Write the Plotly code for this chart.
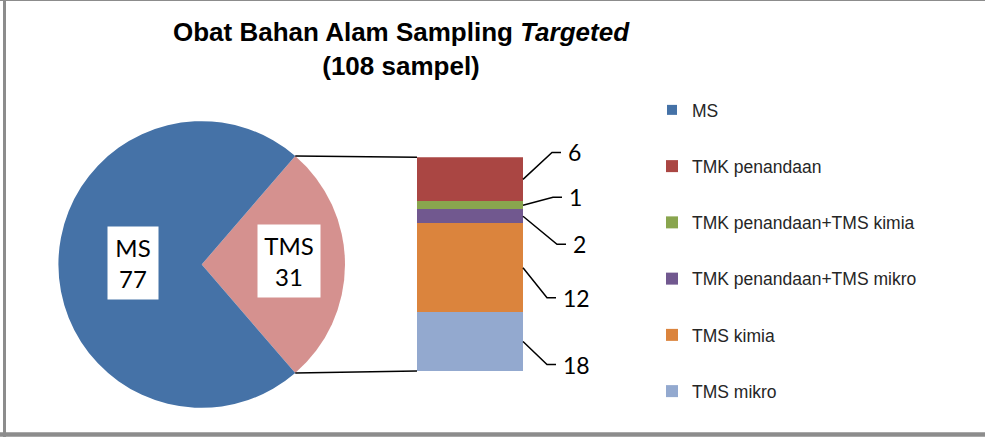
import math
import plotly.graph_objects as go

W, H = 985, 437

# main pie: MS (memenuhi syarat) vs TMS
pie_labels = ["TMS", "MS"]
pie_counts = [29, 77]                 # slice sizes as drawn in the picture
pie_text = ["TMS<br>31", "MS<br>77"]  # labels as printed on the chart

# TMS breakdown shown in the bar, top to bottom
sub_names = [
    "TMK penandaan",
    "TMK penandaan+TMS kimia",
    "TMK penandaan+TMS mikro",
    "TMS kimia",
    "TMS mikro",
]
sub_counts = [6, 1, 2, 12, 8]          # segment heights as drawn
sub_text = ["6", "1", "2", "12", "18"]  # data labels as printed

PIE_COLORS = {"MS": "#4572A7", "TMS": "#D5918F"}
SUB_COLORS = ["#AA4643", "#89A54E", "#71588F", "#DB843D", "#93A9CF"]

LABEL_FONT = "Lato, 'Open Sans', sans-serif"
TEXT_FONT = "'Liberation Sans', Arial, sans-serif"


def fx(px):
    return px / W


def fy(py):
    return 1 - py / H


# geometry (pixels)
pie_cx, pie_cy, pie_r = 201.7, 264.5, 143.3
bar_l, bar_r, bar_t, bar_b = 417, 523, 157.3, 371

tms_frac = pie_counts[0] / sum(pie_counts)
rotation = 90 - tms_frac * 180  # centre the TMS slice on 3 o'clock

fig = go.Figure()

fig.add_trace(go.Pie(
    labels=pie_labels,
    values=pie_counts,
    sort=False,
    direction="clockwise",
    rotation=rotation,
    marker=dict(colors=[PIE_COLORS[l] for l in pie_labels], line=dict(width=0)),
    textinfo="none",
    hoverinfo="label+value",
    showlegend=False,
    domain=dict(x=[fx(pie_cx - pie_r), fx(pie_cx + pie_r)],
                y=[fy(pie_cy + pie_r), fy(pie_cy - pie_r)]),
))

# legend entry for MS
fig.add_trace(go.Scatter(
    x=[None], y=[None], mode="markers", name="MS",
    marker=dict(symbol="square", size=10, color=PIE_COLORS["MS"]),
    legendgroup="MS", legendrank=1,
    xaxis="x2", yaxis="y2",
))

# stacked bar, added bottom-up so the first name sits on top
for i in reversed(range(len(sub_names))):
    fig.add_trace(go.Bar(
        x=[0], y=[sub_counts[i]], width=1,
        name=sub_names[i],
        marker=dict(color=SUB_COLORS[i], line=dict(width=0)),
        legendgroup=sub_names[i], legendrank=i + 2,
        xaxis="x2", yaxis="y2",
    ))

total = sum(sub_counts)
bar_h = bar_b - bar_t

shapes = []
annotations = []

# connector lines from the TMS slice edges to the bar corners
for ang, corner_y in [(rotation, bar_t), (rotation + tms_frac * 360, bar_b)]:
    a = math.radians(ang)
    sx = pie_cx + pie_r * math.sin(a)
    sy = pie_cy - pie_r * math.cos(a)
    shapes.append(dict(type="line", xref="paper", yref="paper",
                       x0=fx(sx), y0=fy(sy), x1=fx(bar_l), y1=fy(corner_y),
                       line=dict(color="black", width=1.5)))

# leader lines + data labels
label_shift = [-27, -8, 28, 30, 23]   # px, label offset from segment middle
elbow_x = [552, 553, 557, 547, 547]
top = total
for i, c in enumerate(sub_counts):
    mid = (top - c / 2) / total
    top -= c
    lab = mid - label_shift[i] / bar_h
    ex = elbow_x[i]
    shapes.append(dict(
        type="path", xref="paper", yref="y2 domain",
        path=f"M {fx(bar_r)},{mid} L {fx(ex)},{lab} L {fx(ex + 9)},{lab}",
        line=dict(color="black", width=1.5),
    ))
    annotations.append(dict(
        xref="paper", yref="y2 domain", x=fx(ex + 14), y=lab,
        xanchor="left", yanchor="middle", showarrow=False,
        text=sub_text[i], font=dict(family=LABEL_FONT, size=23, color="black"),
    ))

# boxed labels on the pie
for txt, (bx, by, bw) in zip(pie_text, [(289, 261, 62), (133, 262.5, 50)]):
    annotations.append(dict(
        xref="paper", yref="paper", x=fx(bx), y=fy(by),
        xanchor="center", yanchor="middle", showarrow=False,
        text=txt, align="center", bgcolor="white",
        width=bw, height=72, borderpad=0,
        font=dict(family=LABEL_FONT, size=24, color="black"),
    ))

# chart frame
for x0, y0, x1, y1, w in [(4.5, 0, 4.5, 437, 3), (0, 0.5, 985, 0.5, 1),
                          (0, 434.5, 985, 434.5, 4.5)]:
    shapes.append(dict(type="line", xref="paper", yref="paper",
                       x0=fx(x0), y0=fy(y0), x1=fx(x1), y1=fy(y1),
                       line=dict(color="#8C8C8C", width=w)))

fig.update_layout(
    width=W, height=H,
    margin=dict(l=0, r=0, t=0, b=0),
    paper_bgcolor="white",
    plot_bgcolor="white",
    barmode="stack",
    bargap=0,
    title=dict(
        text="<b>Obat Bahan Alam Sampling <i>Targeted</i><br>(108 sampel)</b>",
        x=fx(401), xanchor="center", y=fy(41), yanchor="middle",
        font=dict(family=TEXT_FONT, size=26, color="black"),
    ),
    xaxis2=dict(domain=[fx(bar_l), fx(bar_r)], range=[-0.5, 0.5],
                visible=False, anchor="y2"),
    yaxis2=dict(domain=[fy(bar_b), fy(bar_t)], range=[0, total],
                visible=False, anchor="x2"),
    legend=dict(
        x=fx(652), y=fy(92), xanchor="left", yanchor="top",
        traceorder="grouped", tracegroupgap=30.5,
        font=dict(family=TEXT_FONT, size=17.5, color="#262626"),
        bgcolor="rgba(0,0,0,0)",
    ),
    shapes=shapes,
    annotations=annotations,
)

fig.write_html("out.html", config={"displayModeBar": False},
               post_script="document.body.style.margin = '0';")
